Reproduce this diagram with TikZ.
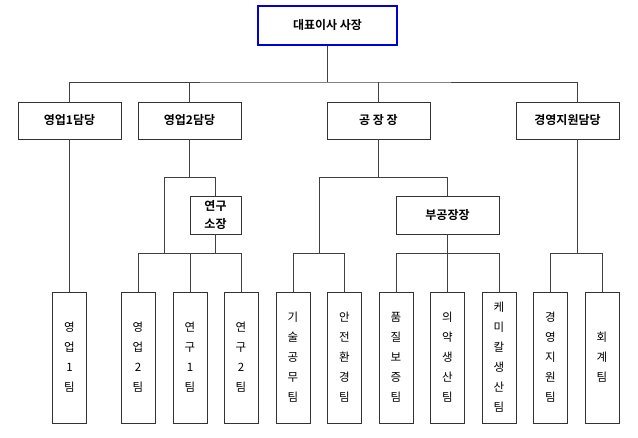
\documentclass[tikz,border=0pt]{standalone}
\usepackage{fontspec}
\setmainfont{Noto Sans CJK KR}[BoldFont={Noto Sans CJK KR Bold}]
\begin{document}
\begin{tikzpicture}[x=1pt,y=-1pt,
  box/.style={draw=black!80,line width=0.8pt,minimum width=#1,inner sep=0pt,font=\fontsize{12}{14}\selectfont\bfseries},
  box/.default=103pt,
  vbox/.style={draw=black!80,line width=0.8pt,minimum width=34pt,minimum height=131pt,inner sep=0pt,align=center,font=\fontsize{11.5}{20}\selectfont},
  ln/.style={draw=black!75,line width=0.8pt}]
\useasboundingbox (0,0) rectangle (638,437);
\node[box=139pt,minimum height=39pt,draw=blue!85!black,line width=2pt] (ceo) at (327.5,25.5) {대표이사 사장};
\foreach \n/\x/\t in {s1/69.5/영업1담당, s2/189.5/영업2담당, fac/378.5/공\ 장\ 장, mg/567.5/경영지원담당}
  \node[box,minimum height=37pt] (\n) at (\x,120.5) {\t};
\node[box=51pt,minimum height=38pt,align=center,font=\fontsize{12}{18}\selectfont\bfseries] (lab) at (215.5,215) {연구\\소장};
\node[box,minimum height=38pt] (sub) at (447.5,215) {부공장장};
\foreach \n/\x/\t in {t1/69.5/영\\업\\1\\팀, t2/138/영\\업\\2\\팀, t3/190/연\\구\\1\\팀, t4/241/연\\구\\2\\팀,
  t5/293/기\\술\\공\\무\\팀, t6/344.5/안\\전\\환\\경\\팀, t7/396/품\\질\\보\\증\\팀, t8/447.5/의\\약\\생\\산\\팀,
  t9/499/케\\미\\칼\\생\\산\\팀, t10/550.5/경\\영\\지\\원\\팀, t11/602/회\\계\\팀}
  \node[vbox] (\n) at (\x,357.5) {\t};
\coordinate (b0) at (327.5,82);
\draw[ln] (ceo.south) -- (b0);
\draw[ln] (s1.north) |- (b0) -| (577,102);
\draw[ln] (s2.north) -- (s2.north |- b0);
\draw[ln] (fac.north) -- (fac.north |- b0);
\draw[ln] (s1.south) -- (t1.north);
\coordinate (a1) at (164,177); \coordinate (a2) at (215.5,177);
\draw[ln] (s2.south) -- (s2.south |- a1);
\draw[ln] (a1) -- (a2) -- (lab.north);
\draw[ln] (a1) -- (164,253);
\draw[ln] (lab.south) -- (215.5,253);
\draw[ln] (t2.north) |- (t4.north |- 0,253) -- (t4.north);
\draw[ln] (t3.north) -- (t3.north |- 0,253);
\coordinate (c1) at (319,177);
\draw[ln] (fac.south) -- (fac.south |- c1);
\draw[ln] (c1) -| (sub.north);
\draw[ln] (c1) -- (319,253);
\draw[ln] (t5.north) |- (t6.north |- 0,253) -- (t6.north);
\draw[ln] (sub.south) -- (t8.north);
\draw[ln] (t7.north) |- (t9.north |- 0,253) -- (t9.north);
\draw[ln] (577,139) -- (577,253);
\draw[ln] (t10.north) |- (t11.north |- 0,253) -- (t11.north);
\end{tikzpicture}
\end{document}
